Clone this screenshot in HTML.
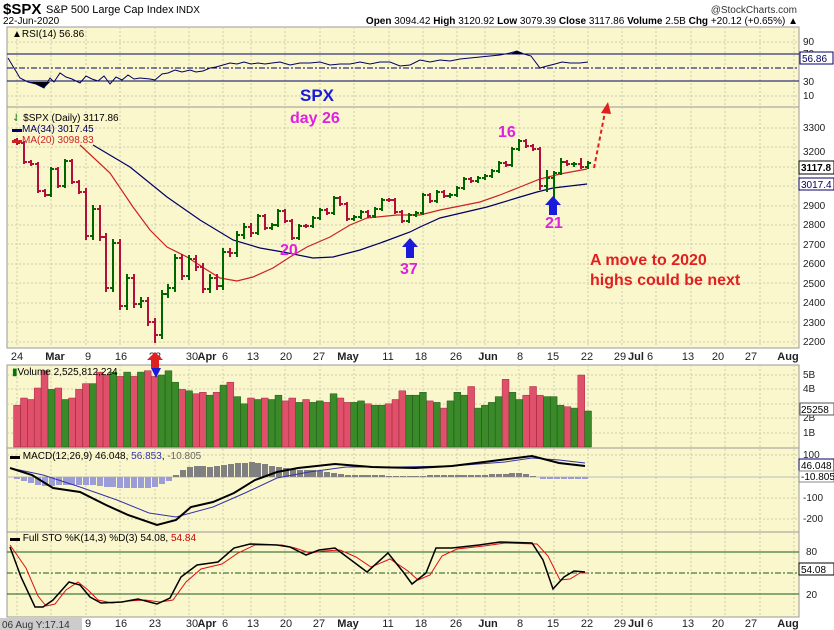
<!DOCTYPE html>
<html><head><meta charset="utf-8"><style>
html,body{margin:0;padding:0;background:#fff;}
svg{display:block;font-family:"Liberation Sans",sans-serif;}
</style></head><body>
<svg width="834" height="630" viewBox="0 0 834 630" xmlns="http://www.w3.org/2000/svg">
<rect width="834" height="630" fill="#fff"/>
<!-- panels -->
<g fill="#faf7cd" stroke="#999">
<rect x="7" y="27" width="792" height="80"/>
<rect x="7" y="107" width="792" height="241"/>
<rect x="7" y="365" width="792" height="83"/>
<rect x="7" y="448" width="792" height="84"/>
<rect x="7" y="532" width="792" height="85"/>
</g>
<!-- vertical grid -->
<g stroke="#cfcdb0" stroke-dasharray="2,2">
<path d="M17 27V348M51 27V348M86 27V348M120 27V348M155 27V348M189 27V348M223 27V348M251 27V348M285 27V348M320 27V348M354 27V348M389 27V348M423 27V348M457 27V348M485 27V348M519 27V348M554 27V348M588 27V348M622 27V348M656 27V348M691 27V348M725 27V348M760 27V348M794 27V348"/>
<path d="M17 365V617M51 365V617M86 365V617M120 365V617M155 365V617M189 365V617M223 365V617M251 365V617M285 365V617M320 365V617M354 365V617M389 365V617M423 365V617M457 365V617M485 365V617M519 365V617M554 365V617M588 365V617M622 365V617M656 365V617M691 365V617M725 365V617M760 365V617M794 365V617"/>
<path d="M7 42H799M7 96H799M7 128H799M7 147H799M7 167H799M7 186H799M7 206H799M7 225H799M7 244H799M7 264H799M7 283H799M7 303H799M7 322H799M7 342H799M7 375H799M7 389H799M7 404H799M7 418H799M7 433H799M7 455H799M7 498H799M7 519H799"/>
</g>
<!-- RSI -->
<path d="M7 54H799M7 81H799" stroke="#000066"/>
<path d="M7 68H799" stroke="#000066" stroke-dasharray="6,2,2,2"/>
<polygon points="28,82 36,84 44,88 50,82" fill="#000"/>
<polygon points="510,54 517,51 524,54" fill="#000"/>
<polyline fill="none" stroke="#000066" points="8,58 14,68 20,78 28,82 36,84 44,88 50,78 54,82 60,73 66,77 72,79 80,83 86,76 92,79 98,81 104,76 110,84 116,77 122,80 128,75 134,79 140,78 150,79 155,80 162,74 168,73 175,70 182,72 190,70 196,72 203,71 210,68 216,67 223,65 230,63 237,64 244,62 251,64 258,63 265,64 272,63 280,62 290,65 300,63 310,63 320,62 330,65 340,64 350,64 360,62 370,64 380,62 390,62 400,66 410,65 420,60 430,62 440,60 450,61 460,59 470,58 480,57 490,56 500,55 510,53 517,51 524,54 531,56 540,68 547,66 555,64 562,62 570,63 580,63 588,62"/>
<!-- MAs -->
<polyline fill="none" stroke="#000066" stroke-width="1.2" points="93,145 130,167 167,197 200,220 233,240 260,248 283,252 313,258 333,257 360,250 383,242 410,232 420,227 440,218 487,207 520,197 537,192 553,188 587,184"/>
<polyline fill="none" stroke="#cc2222" stroke-width="1.2" points="80,145 110,173 133,207 150,230 167,247 187,257 207,270 220,278 237,281 253,277 273,268 290,257 307,247 330,237 350,225 367,218 397,215 420,215 440,210 480,202 500,195 520,187 540,179 560,174 587,169"/>
<!-- price bars -->
<path fill="none" stroke="#b0103a" stroke-width="2" d="M17 138V145M14 140h3M17 143h3M24 141V164M21 143h3M24 162h3M31 160V166M28 162h3M31 164h3M38 162V193M35 164h3M38 191h3M45 189V197M42 191h3M45 195h3M58 167V188M55 169h3M58 186h3M72 159V184M69 161h3M72 182h3M79 180V194M76 182h3M79 192h3M86 188V240M83 192h3M86 236h3M100 205V241M97 209h3M100 237h3M106 233V292M103 237h3M106 288h3M120 239V310M117 243h3M120 306h3M134 274V308M131 278h3M134 304h3M148 297V326M145 301h3M148 322h3M155 318V343M152 322h3M155 335h3M182 254V280M179 258h3M182 276h3M196 255V271M193 259h3M196 267h3M203 263V293M200 267h3M203 289h3M217 274V290M214 278h3M217 286h3M230 248V257M227 252h3M230 253h3M251 223V237M248 227h3M251 233h3M265 214V230M262 216h3M265 228h3M285 209V223M282 211h3M285 221h3M292 219V240M289 221h3M292 238h3M306 224V228M303 226h3M306 226h3M327 208V215M324 210h3M327 213h3M340 196V206M337 198h3M340 204h3M347 202V221M344 204h3M347 219h3M368 210V218M365 212h3M368 216h3M389 198V202M386 200h3M389 200h3M395 198V214M392 200h3M395 212h3M402 210V223M399 212h3M402 221h3M430 193V203M427 195h3M430 201h3M444 190V198M441 192h3M444 196h3M471 177V183M468 179h3M471 181h3M506 161V167M503 163h3M506 165h3M526 139V148M523 141h3M526 146h3M533 144V151M530 146h3M533 149h3M540 147V190M537 149h3M540 186h3M567 160V166M564 162h3M567 164h3M581 158V169M578 164h3M581 167h3"/>
<path fill="none" stroke="#006600" stroke-width="2" d="M51 167V197M48 195h3M51 169h3M65 159V188M62 186h3M65 161h3M93 205V240M90 236h3M93 209h3M113 239V292M110 288h3M113 243h3M127 274V310M124 306h3M127 278h3M141 297V308M138 304h3M141 301h3M162 290V339M159 335h3M162 294h3M168 284V298M165 294h3M168 288h3M175 254V292M172 288h3M175 258h3M189 255V280M186 276h3M189 259h3M210 274V293M207 289h3M210 278h3M223 248V290M220 286h3M223 252h3M237 231V257M234 253h3M237 235h3M244 223V239M241 235h3M244 227h3M258 214V235M255 233h3M258 216h3M272 223V230M269 228h3M272 225h3M278 209V227M275 225h3M278 211h3M299 224V240M296 238h3M299 226h3M313 216V228M310 226h3M313 218h3M320 208V220M317 218h3M320 210h3M334 196V215M331 213h3M334 198h3M354 215V221M351 219h3M354 217h3M361 210V219M358 217h3M361 212h3M375 207V218M372 216h3M375 209h3M382 198V211M379 209h3M382 200h3M409 213V223M406 221h3M409 215h3M416 211V217M413 215h3M416 213h3M423 193V215M420 213h3M423 195h3M437 190V203M434 201h3M437 192h3M450 193V198M447 196h3M450 195h3M457 186V197M454 195h3M457 188h3M464 177V190M461 188h3M464 179h3M478 176V183M475 181h3M478 178h3M485 174V180M482 178h3M485 176h3M492 169V178M489 176h3M492 171h3M499 161V173M496 171h3M499 163h3M512 147V167M509 165h3M512 149h3M519 139V151M516 149h3M519 141h3M547 170V192M544 186h3M547 178h3M554 171V199M551 178h3M554 173h3M561 158V175M558 173h3M561 162h3M574 162V167M571 164h3M574 164h3M588 161V169M585 167h3M588 163h3"/>
<!-- white axis row -->
<rect x="0" y="349" width="834" height="15" fill="#fff"/>
<!-- volume -->
<path fill="#e0506a" stroke="#a02a40" stroke-width="0.5" d="M13.6 447V405.2h6.9V447zM20.5 447V398h6.9V447zM27.4 447V399.5h6.9V447zM34.2 447V388h6.9V447zM41.1 447V370.7h6.9V447zM54.9 447V388h6.9V447zM68.6 447V398h6.9V447zM75.5 447V389.4h6.9V447zM82.4 447V383.6h6.9V447zM96.2 447V372.1h6.9V447zM103 447V375h6.9V447zM116.8 447V376.4h6.9V447zM130.6 447V376.4h6.9V447zM144.3 447V370.7h6.9V447zM151.2 447V376.4h6.9V447zM178.7 447V389.4h6.9V447zM192.5 447V393.7h6.9V447zM199.4 447V392.3h6.9V447zM213.1 447V392.3h6.9V447zM226.9 447V382.2h6.9V447zM247.5 447V398h6.9V447zM261.3 447V398h6.9V447zM281.9 447V400.9h6.9V447zM288.8 447V398h6.9V447zM302.6 447V399.5h6.9V447zM323.2 447V402.4h6.9V447zM337 447V398h6.9V447zM343.8 447V402.4h6.9V447zM364.5 447V403.8h6.9V447zM385.1 447V403.8h6.9V447zM392 447V399.5h6.9V447zM398.9 447V390.8h6.9V447zM426.4 447V400.9h6.9V447zM440.2 447V408.1h6.9V447zM467.7 447V386.5h6.9V447zM502.1 447V379.3h6.9V447zM522.7 447V395.2h6.9V447zM529.6 447V386.5h6.9V447zM536.5 447V395.2h6.9V447zM564 447V406.7h6.9V447zM577.8 447V375h6.9V447z"/>
<path fill="#3a8a2a" stroke="#1f5a16" stroke-width="0.5" d="M48 447V389.4h6.9V447zM61.8 447V399.5h6.9V447zM89.3 447V383.6h6.9V447zM109.9 447V372.1h6.9V447zM123.7 447V372.1h6.9V447zM137.4 447V372.1h6.9V447zM158.1 447V375h6.9V447zM165 447V370.7h6.9V447zM171.8 447V382.2h6.9V447zM185.6 447V390.8h6.9V447zM206.2 447V395.2h6.9V447zM220 447V385.1h6.9V447zM233.8 447V396.6h6.9V447zM240.6 447V403.8h6.9V447zM254.4 447V399.5h6.9V447zM268.2 447V399.5h6.9V447zM275 447V395.2h6.9V447zM295.7 447V402.4h6.9V447zM309.4 447V402.4h6.9V447zM316.3 447V400.9h6.9V447zM330.1 447V393.7h6.9V447zM350.7 447V402.4h6.9V447zM357.6 447V400.9h6.9V447zM371.4 447V405.2h6.9V447zM378.2 447V405.2h6.9V447zM405.8 447V395.2h6.9V447zM412.6 447V395.2h6.9V447zM419.5 447V392.3h6.9V447zM433.3 447V402.4h6.9V447zM447 447V400.9h6.9V447zM453.9 447V392.3h6.9V447zM460.8 447V395.2h6.9V447zM474.6 447V408.1h6.9V447zM481.4 447V405.2h6.9V447zM488.3 447V402.4h6.9V447zM495.2 447V396.6h6.9V447zM509 447V392.3h6.9V447zM515.8 447V399.5h6.9V447zM543.4 447V396.6h6.9V447zM550.2 447V396.6h6.9V447zM557.1 447V405.2h6.9V447zM570.9 447V408.1h6.9V447zM584.6 447V411h6.9V447z"/>
<!-- MACD -->
<path d="M7 477H799" stroke="#bbb"/>
<path fill="#9c9cd6" d="M14 477h6v2h-6zM21 477h6v4h-6zM28 477h6v6h-6zM35 477h6v8h-6zM42 477h6v9h-6zM49 477h6v9h-6zM56 477h6v8h-6zM63 477h6v8h-6zM69 477h6v8h-6zM76 477h6v8h-6zM83 477h6v8h-6zM90 477h6v8h-6zM97 477h6v9h-6zM104 477h6v10h-6zM110 477h6v10h-6zM117 477h6v11h-6zM124 477h6v11h-6zM131 477h6v11h-6zM138 477h6v11h-6zM145 477h6v11h-6zM152 477h6v10h-6zM159 477h6v7h-6zM166 477h6v4h-6zM540 477h6v2h-6zM547 477h6v2h-6zM554 477h6v2h-6zM561 477h6v2h-6zM568 477h6v2h-6zM575 477h6v2h-6zM582 477h6v2h-6z"/>
<path fill="#808080" d="M173 477h6v-2h-6zM180 477h6v-7h-6zM187 477h6v-10h-6zM194 477h6v-11h-6zM200 477h6v-11h-6zM207 477h6v-10h-6zM214 477h6v-11h-6zM221 477h6v-12h-6zM228 477h6v-13h-6zM235 477h6v-14h-6zM242 477h6v-14h-6zM249 477h6v-15h-6zM255 477h6v-14h-6zM262 477h6v-13h-6zM269 477h6v-11h-6zM276 477h6v-10h-6zM283 477h6v-9h-6zM290 477h6v-8h-6zM297 477h6v-7h-6zM304 477h6v-7h-6zM310 477h6v-7h-6zM317 477h6v-6h-6zM324 477h6v-5h-6zM331 477h6v-4h-6zM338 477h6v-3h-6zM345 477h6v-2h-6zM352 477h6v-2h-6zM359 477h6v-2h-6zM365 477h6v-2h-6zM372 477h6v-2h-6zM379 477h6v-2h-6zM386 477h6v-1h-6zM393 477h6v-1h-6zM400 477h6v-1h-6zM407 477h6v-1h-6zM413 477h6v-1h-6zM420 477h6v-1h-6zM427 477h6v-2h-6zM434 477h6v-2h-6zM441 477h6v-2h-6zM448 477h6v-2h-6zM455 477h6v-2h-6zM461 477h6v-2h-6zM468 477h6v-2h-6zM475 477h6v-2h-6zM482 477h6v-2h-6zM489 477h6v-3h-6zM496 477h6v-3h-6zM503 477h6v-3h-6zM509 477h6v-4h-6zM516 477h6v-4h-6zM523 477h6v-3h-6zM530 477h6v-1h-6z"/>
<polyline fill="none" stroke="#3333aa" points="10,468 43,475 80,487 117,500 149,513 176,517 213,507 245,493 277,478 309,472 346,467 399,467 452,466 505,462 532,458 559,460 585,463"/>
<polyline fill="none" stroke="#000" stroke-width="2" points="10,468 32,475 53,488 80,492 106,505 128,515 157,525 176,520 191,507 213,502 234,493 255,480 277,472 298,468 335,464 372,467 415,468 452,466 500,460 532,456 559,463 585,466"/>
<!-- STO -->
<path d="M7 552H799M7 594H799" stroke="#1a5a1a"/>
<path d="M7 573H799" stroke="#1a5a1a" stroke-dasharray="6,2,2,2"/>
<polyline fill="none" stroke="#dd1111" points="10,545 26,568 38,596 46,606 55,604 66,590 78,582 88,590 98,600 112,603 128,601 145,600 160,602 173,600 186,582 201,569 222,564 238,553 255,545 282,545 295,548 310,553 324,551 340,550 356,557 371,567 390,559 408,571 418,580 430,575 442,556 457,549 484,546 505,543 537,544 548,556 560,580 570,579 580,573 588,573"/>
<polyline fill="none" stroke="#000" stroke-width="1.5" points="10,547 21,577 35,607 43,607 53,600 69,582 80,585 90,597 101,603 122,602 138,599 157,604 170,598 181,577 197,565 218,562 234,548 250,544 277,545 290,547 306,555 319,550 335,548 351,560 367,572 388,553 404,573 412,584 426,573 436,548 452,548 479,545 500,542 532,543 543,560 553,589 564,577 574,571 585,572"/>
<!-- header -->
<text x="3" y="14" font-size="15" font-weight="bold">$SPX</text>
<text x="46" y="13" font-size="11">S&amp;P 500 Large Cap Index</text>
<text x="176" y="13" font-size="10">INDX</text>
<text x="797" y="13" font-size="10" fill="#333" text-anchor="end">@StockCharts.com</text>
<text x="3" y="24" font-size="10">22-Jun-2020</text>
<text x="798" y="24" font-size="10" text-anchor="end"><tspan font-weight="bold">Open</tspan> 3094.42 <tspan font-weight="bold">High</tspan> 3120.92 <tspan font-weight="bold">Low</tspan> 3079.39 <tspan font-weight="bold">Close</tspan> 3117.86 <tspan font-weight="bold">Volume</tspan> 2.5B <tspan font-weight="bold">Chg</tspan> +20.12 (+0.65%) ▲</text>
<text x="12" y="37" font-size="10">▲RSI(14) 56.86</text>
<text x="12" y="121" font-size="10"><tspan fill="#070">⇃</tspan> $SPX (Daily) 3117.86</text>
<text x="12" y="132" font-size="10" fill="#000066">▬MA(34) 3017.45</text>
<text x="12" y="143" font-size="10" fill="#cc2222">▬MA(20) 3098.83</text>
<text x="12" y="375" font-size="10"><tspan fill="#070">▮</tspan>Volume 2,525,812,224</text>
<text x="10" y="459" font-size="10">▬ MACD(12,26,9) 46.048, <tspan fill="#3333aa">56.853</tspan>, <tspan fill="#666">-10.805</tspan></text>
<text x="10" y="541" font-size="10">▬ Full STO %K(14,3) %D(3) 54.08, <tspan fill="#cc0000">54.84</tspan></text>
<g font-size="10" fill="#222">
<text x="803" y="45">90</text><text x="803" y="57">70</text><text x="803" y="85">30</text><text x="803" y="99">10</text>
<text x="803" y="131">3300</text><text x="803" y="155">3200</text><text x="803" y="209">2900</text><text x="803" y="228">2800</text><text x="803" y="248">2700</text><text x="803" y="267">2600</text><text x="803" y="287">2500</text><text x="803" y="306">2400</text><text x="803" y="326">2300</text><text x="803" y="345">2200</text>
<text x="803" y="378">5B</text><text x="803" y="392">4B</text><text x="803" y="421">2B</text><text x="803" y="436">1B</text>
<text x="803" y="458">100</text><text x="803" y="501">-100</text><text x="803" y="522">-200</text>
<text x="806" y="555">80</text><text x="806" y="598">20</text>
</g>
<g font-size="10">
<rect x="800" y="52" width="33" height="12" fill="#fff" stroke="#000066"/><text x="802" y="62" fill="#000066">56.86</text>
<rect x="799" y="161" width="35" height="13" fill="#fff" stroke="#000"/><text x="801" y="171" font-weight="bold">3117.8</text>
<rect x="799" y="178" width="35" height="12" fill="#fff" stroke="#000066"/><text x="801" y="188" fill="#000066">3017.4</text>
<rect x="800" y="403" width="34" height="12" fill="#fff" stroke="#555"/><text x="801" y="413">25258</text>
<rect x="799" y="459" width="35" height="12" fill="#fff" stroke="#000066"/><text x="801" y="469">46.048</text>
<rect x="799" y="471" width="35" height="11" fill="#fff" stroke="#888"/><text x="801" y="480">-10.805</text>
<rect x="799" y="563" width="35" height="12" fill="#fff" stroke="#000"/><text x="801" y="573">54.08</text>
</g>
<g font-size="11" fill="#222" text-anchor="middle">
<text x="17" y="360">24</text><text x="55" y="360" font-weight="bold">Mar</text><text x="88" y="360">9</text><text x="121" y="360">16</text><text x="155" y="360">23</text><text x="192" y="360">30</text><text x="207" y="360" font-weight="bold">Apr</text><text x="225" y="360">6</text><text x="253" y="360">13</text><text x="286" y="360">20</text><text x="319" y="360">27</text><text x="348" y="360" font-weight="bold">May</text><text x="388" y="360">11</text><text x="421" y="360">18</text><text x="456" y="360">26</text><text x="488" y="360" font-weight="bold">Jun</text><text x="520" y="360">8</text><text x="553" y="360">15</text><text x="587" y="360">22</text><text x="620" y="360">29</text><text x="636" y="360" font-weight="bold">Jul</text><text x="650" y="360">6</text><text x="688" y="360">13</text><text x="718" y="360">20</text><text x="751" y="360">27</text><text x="788" y="360" font-weight="bold">Aug</text>
<text x="88" y="627">9</text><text x="121" y="627">16</text><text x="155" y="627">23</text><text x="192" y="627">30</text><text x="207" y="627" font-weight="bold">Apr</text><text x="225" y="627">6</text><text x="253" y="627">13</text><text x="286" y="627">20</text><text x="319" y="627">27</text><text x="348" y="627" font-weight="bold">May</text><text x="388" y="627">11</text><text x="421" y="627">18</text><text x="456" y="627">26</text><text x="488" y="627" font-weight="bold">Jun</text><text x="520" y="627">8</text><text x="553" y="627">15</text><text x="587" y="627">22</text><text x="620" y="627">29</text><text x="636" y="627" font-weight="bold">Jul</text><text x="650" y="627">6</text><text x="688" y="627">13</text><text x="718" y="627">20</text><text x="751" y="627">27</text><text x="788" y="627" font-weight="bold">Aug</text>
</g>
<rect x="0" y="618" width="82" height="12" fill="#ccc"/><text x="2" y="628" font-size="10" fill="#333">06 Aug Y:17.14</text>
<!-- annotations -->
<text x="300" y="101" font-size="17" font-weight="bold" fill="#1a1adb">SPX</text>
<text x="290" y="123" font-size="16" font-weight="bold" fill="#e020e0">day 26</text>
<text x="498" y="137" font-size="16" font-weight="bold" fill="#e020e0">16</text>
<text x="280" y="255" font-size="16" font-weight="bold" fill="#e020e0">20</text>
<text x="400" y="274" font-size="16" font-weight="bold" fill="#e020e0">37</text>
<text x="545" y="228" font-size="16" font-weight="bold" fill="#e020e0">21</text>
<text x="590" y="265" font-size="16" font-weight="bold" fill="#e02020">A move to 2020</text>
<text x="590" y="285" font-size="16" font-weight="bold" fill="#e02020">highs could be next</text>
<polygon points="410,238 418,247 414,247 414,258 406,258 406,247 402,247" fill="#1a1adb"/>
<polygon points="553,196 561,205 557,205 557,215 549,215 549,205 545,205" fill="#1a1adb"/>
<line x1="594" y1="168" x2="605" y2="112" stroke="#e02020" stroke-width="2" stroke-dasharray="4,3"/>
<polygon points="601,113 611,114 608,102" fill="#e02020"/>
<polygon points="155,352 163,360 159,360 159,368 151,368 151,360 147,360" fill="#e02020"/>
<polygon points="151,368 161,368 156,378" fill="#1a1adb"/>
</svg>
</body></html>
